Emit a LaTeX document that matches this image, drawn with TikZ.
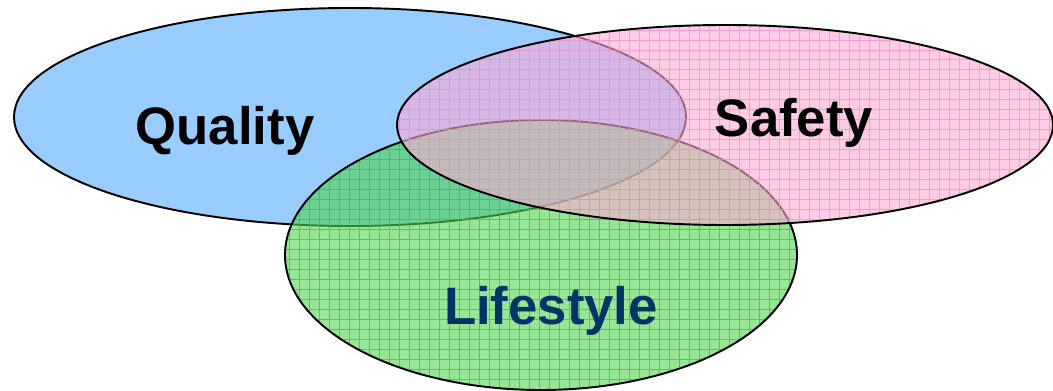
\documentclass[tikz,border=0pt]{standalone}
\usepackage{fontspec}
\setsansfont{Liberation Sans}
\usetikzlibrary{positioning}
\definecolor{qualityblue}{RGB}{153,204,255}
\definecolor{safetypink}{RGB}{255,170,213}
\definecolor{lifegreen}{RGB}{80,213,80}
\definecolor{pinkgrid}{RGB}{245,135,200}
\definecolor{greengrid}{RGB}{45,195,45}
\definecolor{navy}{RGB}{0,51,102}

\begin{document}
\begin{tikzpicture}[x=0.02cm,y=-0.02cm,
  ring/.style={draw=black,line width=1.1pt},
  gridlines/.style={line width=0.55pt,opacity=0.7,step=0.2cm},
  word/.style={font=\sffamily\bfseries\fontsize{30}{30}\selectfont,anchor=base}]
  \useasboundingbox (0,0) rectangle (1053,391);
  % quality
  \fill[qualityblue] (350,117) ellipse [x radius=336, y radius=109];
  \draw[ring] (350,117) ellipse [x radius=336, y radius=109];
  % lifestyle
  \fill[lifegreen,fill opacity=0.6] (541,255) ellipse [x radius=256, y radius=135];
  \begin{scope}
    \clip (541,255) ellipse [x radius=256, y radius=135];
    \draw[greengrid,gridlines] (280,110) grid (800,395);
  \end{scope}
  \draw[ring] (541,255) ellipse [x radius=256, y radius=135];
  % safety
  \fill[safetypink,fill opacity=0.6] (725,125) ellipse [x radius=328, y radius=100];
  \begin{scope}
    \clip (725,125) ellipse [x radius=328, y radius=100];
    \draw[pinkgrid,gridlines] (390,20) grid (1060,230);
  \end{scope}
  \draw[ring] (725,125) ellipse [x radius=328, y radius=100];
  \node[word] (quality) at (225,145) {Quality};
  \node[word] (safety) at (794,137) {Safety};
  \node[word,navy] (lifestyle) at (551,324) {Lifestyle};
\end{tikzpicture}
\end{document}
